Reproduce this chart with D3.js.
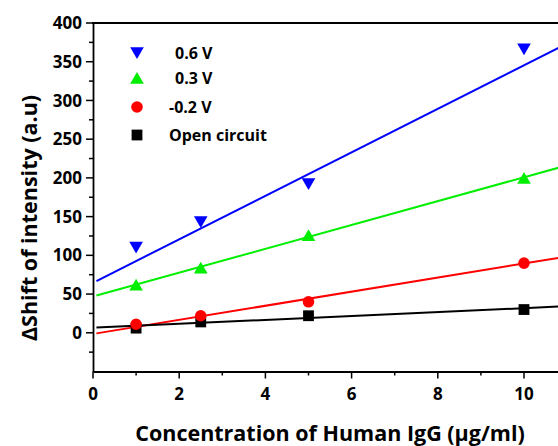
<!DOCTYPE html>
<html><head><meta charset="utf-8">
<script src="https://cdn.jsdelivr.net/npm/d3@7/dist/d3.min.js"></script>
<style>body{margin:0;background:#fff}svg{display:block}</style>
</head><body>
<script>
const concentrations = [1, 2.5, 5, 10];
const v06 = [110, 143, 192, 366];
const v03 = [62, 84, 126, 200];
const vm02 = [11, 22, 40, 90];
const vOpen = [6, 14, 22, 30];
// linear fit lines (intercept, slope)
const fitIntercepts = [64.5, 46.8, -1.5, 6.5];
const fitSlopes = [28.1, 15.4, 9.1, 2.53];
const seriesNames = ["0.6 V", "0.3 V", "-0.2 V", "Open circuit"];
const seriesColors = ["#0000ff", "#00ee00", "#ff0000", "#000000"];
const seriesShapes = ["tridown", "triup", "circle", "square"];
const yTicks = [0, 50, 100, 150, 200, 250, 300, 350, 400];
const xTicks = [0, 2, 4, 6, 8, 10];

const W = 558, H = 446;
const svg = d3.select("body").append("svg").attr("width", W).attr("height", H);
const x = d3.scaleLinear().domain([0, 11]).range([93, 93 + 11 * 43.1]);
const y = d3.scaleLinear().domain([-50, 400]).range([371.5, 23]);
const font = "'Open Sans', sans-serif";

const allVals = [v06, v03, vm02, vOpen];

const line = d3.line().x(d => x(d[0])).y(d => y(d[1]));
allVals.forEach((vals, i) => {
  const pts = [0.08, 11].map(t => [t, fitIntercepts[i] + fitSlopes[i] * t]);
  svg.append("path").attr("d", line(pts)).attr("fill", "none")
    .attr("stroke", seriesColors[i]).attr("stroke-width", 2);
});

function shapePath(shape, cx, cy) {
  if (shape === "tridown") return `M${cx - 6.8},${cy - 5.8}L${cx + 6.8},${cy - 5.8}L${cx},${cy + 6}Z`;
  if (shape === "triup") return `M${cx - 6.8},${cy + 5.8}L${cx + 6.8},${cy + 5.8}L${cx},${cy - 6}Z`;
  if (shape === "square") return `M${cx - 5.4},${cy - 5.4}h10.8v10.8h-10.8Z`;
  return `M${cx - 5.8},${cy}a5.8,5.8 0 1,0 11.6,0a5.8,5.8 0 1,0 -11.6,0Z`;
}

[3, 2, 1, 0].forEach(i => {
  svg.append("g").selectAll("path").data(concentrations).join("path")
    .attr("d", (c, j) => shapePath(seriesShapes[i], x(c), y(allVals[i][j])))
    .attr("fill", seriesColors[i]);
});

// axes
const ax = svg.append("g").attr("transform", "translate(0,371.5)");
ax.call(d3.axisBottom(x).tickValues([]).tickSize(0).tickSizeOuter(0));
ax.select(".domain").attr("stroke-width", 1.8);
xTicks.forEach(t => {
  ax.append("line").attr("x1", x(t)).attr("x2", x(t)).attr("y1", 0).attr("y2", 7).attr("stroke", "#000").attr("stroke-width", 1.5);
  ax.append("text").attr("x", x(t)).attr("y", 28).attr("text-anchor", "middle").attr("fill", "#000")
    .attr("font-family", font).attr("font-weight", "bold").attr("font-size", 17).text(t);
});
[1, 3, 5, 7, 9].forEach(t => {
  ax.append("line").attr("x1", x(t)).attr("x2", x(t)).attr("y1", 0).attr("y2", 4).attr("stroke", "#000").attr("stroke-width", 1.5);
});

const ay = svg.append("g").attr("transform", "translate(93,0)");
ay.call(d3.axisLeft(y).tickValues([]).tickSize(0).tickSizeOuter(0));
ay.select(".domain").attr("stroke-width", 1.8);
yTicks.forEach(t => {
  ay.append("line").attr("x1", -7).attr("x2", 0).attr("y1", y(t)).attr("y2", y(t)).attr("stroke", "#000").attr("stroke-width", 1.5);
  ay.append("text").attr("x", -11).attr("y", y(t)).attr("dy", "0.36em").attr("text-anchor", "end").attr("fill", "#000")
    .attr("font-family", font).attr("font-weight", "bold").attr("font-size", 17).text(t);
});
d3.range(-25, 400, 50).forEach(t => {
  ay.append("line").attr("x1", -4).attr("x2", 0).attr("y1", y(t)).attr("y2", y(t)).attr("stroke", "#000").attr("stroke-width", 1.5);
});

svg.append("line").attr("x1", 92).attr("x2", x(11)).attr("y1", 23).attr("y2", 23).attr("stroke", "#000").attr("stroke-width", 1.8);
svg.append("line").attr("x1", x(11)).attr("x2", x(11)).attr("y1", 23).attr("y2", 371.5).attr("stroke", "#000").attr("stroke-width", 1.8);

// legend
const legY = [53, 78, 107, 135];
const legTextX = [175, 175, 169, 169];
seriesNames.forEach((n, i) => {
  svg.append("path").attr("d", shapePath(seriesShapes[i], 137, legY[i])).attr("fill", seriesColors[i]);
  svg.append("text").attr("x", legTextX[i]).attr("y", legY[i]).attr("dy", "0.36em").attr("fill", "#000")
    .attr("font-family", font).attr("font-weight", "bold").attr("font-size", 16).text(n);
});

// axis titles
svg.append("text").attr("transform", "translate(37,218) rotate(-90)").attr("text-anchor", "middle").attr("fill", "#000")
  .attr("font-family", font).attr("font-weight", "bold").attr("font-size", 21.5).text("\u0394Shift of intensity (a.u)");
svg.append("text").attr("x", 330).attr("y", 441).attr("text-anchor", "middle").attr("fill", "#000")
  .attr("font-family", font).attr("font-weight", "bold").attr("font-size", 21.5).text("Concentration of Human IgG (\u03bcg/ml)");
</script>
</body></html>
